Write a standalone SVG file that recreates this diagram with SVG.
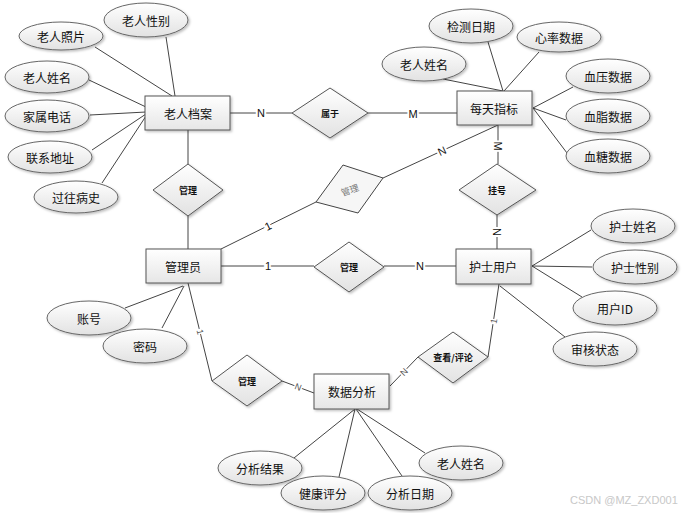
<svg xmlns="http://www.w3.org/2000/svg" width="700" height="513" viewBox="0 0 700 513">
<defs>
<linearGradient id="gr" x1="0" y1="0" x2="0" y2="1">
<stop offset="0" stop-color="#ffffff"/>
<stop offset="1" stop-color="#e6e6e6"/>
</linearGradient>
<linearGradient id="ge" x1="0" y1="0" x2="0" y2="1">
<stop offset="0" stop-color="#ffffff"/>
<stop offset="1" stop-color="#e2e2e2"/>
</linearGradient>
<filter id="sh" x="-10%" y="-10%" width="130%" height="140%">
<feDropShadow dx="1.5" dy="1.5" stdDeviation="1" flood-color="#000" flood-opacity="0.25"/>
</filter>
</defs>
<style>
text{font-family:"Noto Sans CJK SC","Liberation Sans",sans-serif;fill:#111;text-anchor:middle;dominant-baseline:central}
.ent rect{fill:url(#gr);stroke:#555;stroke-width:1;filter:url(#sh)}
.ent text{font-size:12px}
.att ellipse{fill:url(#ge);stroke:#666;stroke-width:1;filter:url(#sh)}
.att text{font-size:12px}
.rel polygon{fill:url(#ge);stroke:#555;stroke-width:1;filter:url(#sh)}
.rel polygon.r{fill:#f6f6f6;stroke:#444;filter:none}
.rel text{font-size:9px;font-weight:bold}
.rel text.g{fill:#777;font-weight:normal}
#connectors line{stroke:#444;stroke-width:1}
.lab{font-family:"Liberation Sans",sans-serif;font-size:11px;paint-order:stroke;stroke:#fff;stroke-width:4px}
.lab.s{font-size:9px;fill:#555;stroke-width:3px}
.wm{font-family:"Liberation Sans",sans-serif;font-size:11px;fill:#c8c8c8;text-anchor:start}
</style>
<rect width="700" height="513" fill="#fff"/>

<g id="connectors">
<line x1="166" y1="37" x2="175" y2="96"/>
<line x1="95" y1="47" x2="172" y2="96"/>
<line x1="89" y1="80" x2="146" y2="107"/>
<line x1="90" y1="115" x2="146" y2="112"/>
<line x1="92" y1="150" x2="146" y2="114"/>
<line x1="102" y1="183" x2="146" y2="116"/>
<line x1="443" y1="79" x2="503" y2="91"/>
<line x1="488" y1="42" x2="503" y2="91"/>
<line x1="539" y1="52" x2="504" y2="91"/>
<line x1="573" y1="87" x2="533" y2="108"/>
<line x1="566" y1="120" x2="533" y2="108"/>
<line x1="567" y1="153" x2="533" y2="108"/>
<line x1="532" y1="266" x2="591" y2="230"/>
<line x1="532" y1="266" x2="592" y2="267"/>
<line x1="532" y1="266" x2="582" y2="297"/>
<line x1="500" y1="286" x2="565" y2="337"/>
<line x1="125" y1="308" x2="183" y2="286"/>
<line x1="162" y1="328" x2="184" y2="286"/>
<line x1="355" y1="409" x2="294" y2="458"/>
<line x1="355" y1="409" x2="339" y2="477"/>
<line x1="356" y1="409" x2="402" y2="476"/>
<line x1="357" y1="409" x2="425" y2="453"/>
<line x1="230" y1="113" x2="292" y2="113"/>
<line x1="368" y1="113" x2="457" y2="113"/>
<line x1="188" y1="130" x2="188" y2="164"/>
<line x1="188" y1="216" x2="188" y2="249"/>
<line x1="221" y1="249" x2="316" y2="202"/>
<line x1="383" y1="178" x2="498" y2="125"/>
<line x1="498" y1="125" x2="498" y2="164"/>
<line x1="497" y1="215" x2="497" y2="249"/>
<line x1="221" y1="266" x2="314" y2="266"/>
<line x1="384" y1="266" x2="456" y2="266"/>
<line x1="188" y1="283" x2="212" y2="381"/>
<line x1="282" y1="381" x2="314" y2="393"/>
<line x1="390" y1="386" x2="418" y2="357"/>
<line x1="488" y1="357" x2="499" y2="284"/>
<text class="lab" x="261" y="113">N</text>
<text class="lab" x="413" y="114">M</text>
<text class="lab" x="268" y="226" transform="rotate(-26 268 226)">1</text>
<text class="lab" x="442" y="151" transform="rotate(-25 442 151)">N</text>
<text class="lab" x="498" y="146" transform="rotate(90 498 146)">M</text>
<text class="lab" x="497" y="232" transform="rotate(90 497 232)">N</text>
<text class="lab" x="268" y="266">1</text>
<text class="lab" x="420" y="266">N</text>
<text class="lab s" x="200" y="332" transform="rotate(76 200 332)">1</text>
<text class="lab s" x="298" y="387" transform="rotate(21 298 387)">N</text>
<text class="lab s" x="404" y="372" transform="rotate(-46 404 372)">N</text>
<text class="lab s" x="494" y="321" transform="rotate(-81 494 321)">1</text>
</g>

<g id="e-laorendangan" class="ent"><rect x="145" y="96" width="85" height="34"/><text x="188" y="113">老人档案</text></g>
<g id="e-meitianzhibiao" class="ent"><rect x="457" y="91" width="75" height="34"/><text x="494" y="108">每天指标</text></g>
<g id="e-guanliyuan" class="ent"><rect x="146" y="249" width="75" height="34"/><text x="183" y="266">管理员</text></g>
<g id="e-hushiyonghu" class="ent"><rect x="456" y="249" width="75" height="35"/><text x="493" y="266">护士用户</text></g>
<g id="e-shujufenxi" class="ent"><rect x="314" y="374" width="75" height="35"/><text x="352" y="391">数据分析</text></g>

<g id="r-shuyu" class="rel"><polygon points="292,113 330,88 368,113 330,138"/><text x="330" y="113">属于</text></g>
<g id="r-guanli1" class="rel"><polygon points="153,190 188,164 223,190 188,216"/><text x="188" y="190">管理</text></g>
<g id="r-guanli2" class="rel"><polygon class="r" points="316,202 343,165 383,178 358,213"/><text class="g" x="350" y="190" transform="rotate(-19 350 190)">管理</text></g>
<g id="r-guahao" class="rel"><polygon points="459,190 497,164 536,190 497,215"/><text x="497" y="190">挂号</text></g>
<g id="r-guanli3" class="rel"><polygon points="314,267 349,242 384,267 349,292"/><text x="349" y="267">管理</text></g>
<g id="r-guanli4" class="rel"><polygon points="212,381 247,355 282,381 247,406"/><text x="247" y="381">管理</text></g>
<g id="r-chakan" class="rel"><polygon points="418,357 453,332 488,357 453,383"/><text x="453" y="357">查看/评论</text></g>

<g id="a-laorenxingbie" class="att"><ellipse cx="146" cy="20" rx="42" ry="17"/><text x="146" y="20">老人性别</text></g>
<g id="a-laorenzhaopian" class="att"><ellipse cx="61" cy="36" rx="42" ry="14"/><text x="61" y="36">老人照片</text></g>
<g id="a-laorenxingming1" class="att"><ellipse cx="47" cy="77" rx="42" ry="16"/><text x="47" y="77">老人姓名</text></g>
<g id="a-jiashudianhua" class="att"><ellipse cx="47" cy="116" rx="42" ry="16"/><text x="47" y="116">家属电话</text></g>
<g id="a-lianxidizhi" class="att"><ellipse cx="50" cy="157" rx="42" ry="16"/><text x="50" y="157">联系地址</text></g>
<g id="a-guowangbingshi" class="att"><ellipse cx="76" cy="197" rx="42" ry="16"/><text x="76" y="197">过往病史</text></g>

<g id="a-jianceriqi" class="att"><ellipse cx="471" cy="26" rx="42" ry="17"/><text x="471" y="26">检测日期</text></g>
<g id="a-xinlvshuju" class="att"><ellipse cx="559" cy="37" rx="42" ry="15"/><text x="559" y="37">心率数据</text></g>
<g id="a-laorenxingming2" class="att"><ellipse cx="424" cy="64" rx="42" ry="17"/><text x="424" y="64">老人姓名</text></g>
<g id="a-xueya" class="att"><ellipse cx="608" cy="76" rx="42" ry="17"/><text x="608" y="76">血压数据</text></g>
<g id="a-xuezhi" class="att"><ellipse cx="608" cy="116" rx="42" ry="17"/><text x="608" y="116">血脂数据</text></g>
<g id="a-xuetang" class="att"><ellipse cx="608" cy="156" rx="42" ry="17"/><text x="608" y="156">血糖数据</text></g>

<g id="a-hushixingming" class="att"><ellipse cx="633" cy="226" rx="42" ry="17"/><text x="633" y="226">护士姓名</text></g>
<g id="a-hushixingbie" class="att"><ellipse cx="635" cy="267" rx="42" ry="17"/><text x="635" y="267">护士性别</text></g>
<g id="a-yonghuid" class="att"><ellipse cx="615" cy="308" rx="42" ry="17"/><text x="615" y="308">用户ID</text></g>
<g id="a-shenhezhuangtai" class="att"><ellipse cx="595" cy="349" rx="42" ry="17"/><text x="595" y="349">审核状态</text></g>

<g id="a-zhanghao" class="att"><ellipse cx="89" cy="318" rx="42" ry="17"/><text x="89" y="318">账号</text></g>
<g id="a-mima" class="att"><ellipse cx="145" cy="346" rx="42" ry="17"/><text x="145" y="346">密码</text></g>

<g id="a-fenxijieguo" class="att"><ellipse cx="260" cy="468" rx="42" ry="17"/><text x="260" y="468">分析结果</text></g>
<g id="a-jiankangpingfen" class="att"><ellipse cx="323" cy="493" rx="42" ry="17"/><text x="323" y="493">健康评分</text></g>
<g id="a-fenxiriqi" class="att"><ellipse cx="410" cy="493" rx="42" ry="17"/><text x="410" y="493">分析日期</text></g>
<g id="a-laorenxingming3" class="att"><ellipse cx="461" cy="463" rx="42" ry="17"/><text x="461" y="463">老人姓名</text></g>

<text class="wm" x="570" y="500">CSDN @MZ_ZXD001</text>
</svg>
